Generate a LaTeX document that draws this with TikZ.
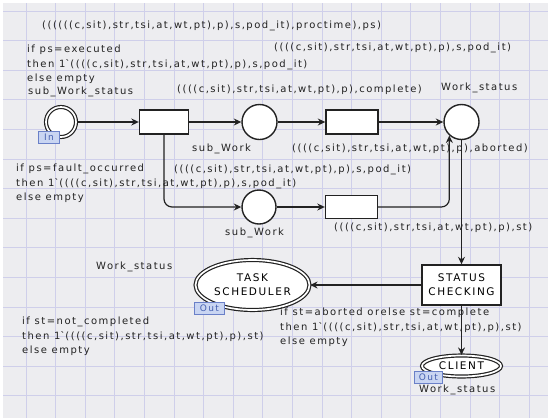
\documentclass[tikz,border=0pt]{standalone}
\usepackage{fontspec}
\setmainfont{DejaVu Sans}[LetterSpace=15]
\usetikzlibrary{arrows.meta,shapes.geometric}

\definecolor{canvas}{HTML}{EDEDF0}
\definecolor{gridline}{HTML}{CFCFEA}
\definecolor{tagfill}{HTML}{C9D5F2}
\definecolor{tagedge}{HTML}{6A80C8}
\definecolor{tagtext}{HTML}{4560B0}
\definecolor{ink}{HTML}{222222}

\tikzset{
  place/.style={circle, draw=ink, fill=white, line width=1.4pt,
    minimum size=35pt, inner sep=0pt},
  portcircle/.style={circle, draw=ink, fill=white, line width=1.2pt,
    double=white, double distance=1.7pt, minimum size=30pt, inner sep=0pt},
  portoval/.style={ellipse, draw=ink, fill=white, line width=1.2pt,
    double=white, double distance=1.7pt, inner sep=0pt, align=center,
    font=\fontsize{10.5}{14}\selectfont},
  trans/.style={rectangle, draw=ink, fill=white, line width=1.4pt,
    minimum width=50pt, minimum height=24pt, inner sep=0pt, align=center,
    font=\fontsize{10.5}{14}\selectfont},
  arc/.style={draw=ink, line width=1.2pt,
    -{Stealth[length=7.5pt,width=7pt,inset=2.5pt]}},
  lbl/.style={anchor=west, inner sep=0pt, text=ink},
  lblm/.style={anchor=north west, inner sep=0pt, align=left, text=ink,
    font=\fontsize{10}{14.8}\selectfont},
  tag/.style={anchor=north west, rectangle, fill=tagfill, draw=tagedge,
    line width=0.9pt, inner sep=0pt, minimum height=11.5pt, text=tagtext,
    font=\fontsize{9}{10}\selectfont},
}

\begin{document}
\begin{tikzpicture}[x=1pt, y=-1pt, font=\fontsize{10}{13}\selectfont]
  % canvas and grid
  \fill[white] (0,0) rectangle (548,418);
  \fill[canvas] (3,3) rectangle (548,418);
  \useasboundingbox (0,0) rectangle (548,418);
  \foreach \gx in {26,55.6,...,548} \draw[gridline, line width=0.9pt] (\gx,3) -- (\gx,418);
  \foreach \gy in {11,40.6,...,418} \draw[gridline, line width=0.9pt] (3,\gy) -- (548,\gy);

  % places and transitions
  \node[portcircle] (pin) at (61,122) {};
  \node[trans, minimum width=49pt] (t1) at (164,122) {};
  \node[place] (sw1) at (259.5,122) {};
  \node[trans, minimum width=52pt] (t2) at (352,122) {};
  \node[place] (ws) at (461.5,122) {};
  \node[place, minimum size=34pt] (sw2) at (259,207) {};
  \node[trans, minimum width=52pt, minimum height=23pt] (t3) at (351.5,207) {};
  \node[trans, minimum width=79pt, minimum height=40pt] (chk) at (461.5,285) {STATUS\\CHECKING};
  \node[portoval, minimum width=114pt, minimum height=50pt] (sched) at (252.5,285) {TASK\\SCHEDULER};
  \node[portoval, minimum width=79pt, minimum height=21pt] (client) at (461.5,366) {CLIENT};

  % port tags
  \node[tag, minimum width=21pt] (tin) at (38,131) {In};
  \node[tag, minimum width=30pt] (tout1) at (194,302) {Out};
  \node[tag, minimum width=28pt] (tout2) at (414,371) {Out};

  % arcs
  \draw[arc] (pin.east) -- (t1.west);
  \draw[arc] (t1.east) -- (sw1.west);
  \draw[arc, rounded corners=8pt] (t1.south) |- (sw2.west);
  \draw[arc] (sw1.east) -- (t2.west);
  \draw[arc] (t2.east) -- (ws.west);
  \draw[arc] (sw2.east) -- (t3.west);
  \draw[arc, rounded corners=8pt] (t3.east) -| (ws.228);
  \draw[arc] (ws.south) -- (ws.south |- chk.north);
  \draw[arc] (chk.west) -- (sched.east);
  \draw[arc] (chk.south) -- (client.north);

  % arc inscriptions
  \node[lbl] (i1) at (42,26) {((((((c,sit),str,tsi,at,wt,pt),p),s,pod\_it),proctime),ps)};
  \node[lblm] (i2) at (27,44.5) {if ps=executed\\then 1\textasciigrave((((c,sit),str,tsi,at,wt,pt),p),s,pod\_it)\\else empty};
  \node[lbl] (i3) at (274,48) {((((c,sit),str,tsi,at,wt,pt),p),s,pod\_it)};
  \node[lbl] (i4) at (177,90) {((((c,sit),str,tsi,at,wt,pt),p),complete)};
  \node[lbl] (i5) at (292,149) {((((c,sit),str,tsi,at,wt,pt),p),aborted)};
  \node[lblm] (i6) at (16,163.5) {if ps=fault\_occurred\\then 1\textasciigrave((((c,sit),str,tsi,at,wt,pt),p),s,pod\_it)\\else empty};
  \node[lbl] (i7) at (174,170) {((((c,sit),str,tsi,at,wt,pt),p),s,pod\_it)};
  \node[lbl] (i8) at (334,228) {((((c,sit),str,tsi,at,wt,pt),p),st)};
  \node[lblm] (i9) at (22,316.5) {if st=not\_completed\\then 1\textasciigrave((((c,sit),str,tsi,at,wt,pt),p),st)\\else empty};
  \node[lblm] (i10) at (280,307.5) {if st=aborted orelse st=complete\\then 1\textasciigrave((((c,sit),str,tsi,at,wt,pt),p),st)\\else empty};

  % colour sets
  \node[lbl] (c1) at (28,92) {sub\_Work\_status};
  \node[lbl] (c2) at (441,88) {Work\_status};
  \node[lbl] (c3) at (192,149) {sub\_Work};
  \node[lbl] (c4) at (225,233) {sub\_Work};
  \node[lbl] (c5) at (96,267) {Work\_status};
  \node[lbl] (c6) at (419,390) {Work\_status};
\end{tikzpicture}
\end{document}
